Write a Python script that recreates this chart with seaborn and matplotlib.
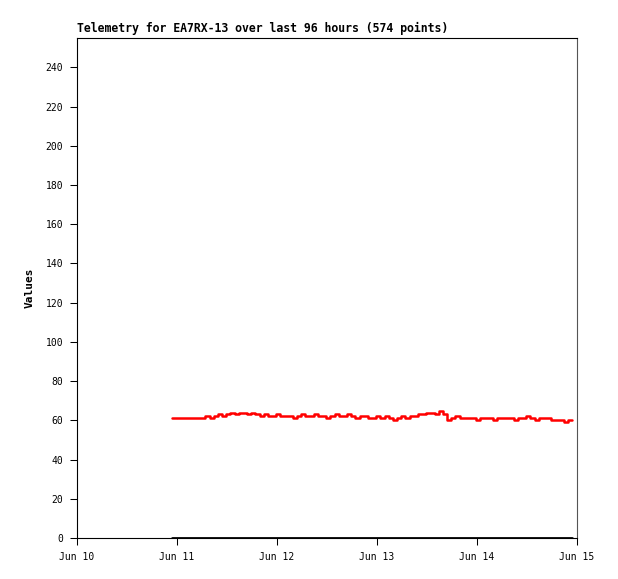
import pandas as pd
import numpy as np
import matplotlib
matplotlib.use("Agg")
import matplotlib.pyplot as plt
import matplotlib.dates as mdates
import seaborn as sns

# hourly telemetry readings, starting Jun 10 22:48
start_time = "2024-06-10 22:48"
channel_a = [61, 61, 61, 61, 61, 61, 61, 61,
             62, 61, 62, 63, 62, 63, 64, 63, 64, 64, 63, 64, 63, 62, 63, 62,
             62, 63, 62, 62, 62, 61, 62, 63, 62, 62, 63, 62, 62, 61, 62, 63,
             62, 62, 63, 62, 61, 62, 62, 61,
             61, 62, 61, 62, 61, 60, 61, 62, 61, 62, 62,
             63, 63, 64, 64, 63, 65, 63,
             60, 61, 62, 61, 61,
             61, 61, 60, 61, 61, 61, 60, 61, 61, 61, 61, 60, 61, 61, 62, 61,
             60, 61, 61, 61, 60, 60, 60, 59, 60, 60]
channel_b = [0] * len(channel_a)

times = pd.date_range(start_time, periods=len(channel_a), freq="h")
df = pd.DataFrame({"time": times, "a": channel_a, "b": channel_b})

sns.set_style("white")
plt.rcParams['font.family'] = ['DejaVu Sans Mono']
plt.rcParams['text.color'] = 'black'
plt.rcParams['axes.labelcolor'] = 'black'

fig = plt.figure(figsize=(6.18, 5.79), dpi=100)
ax = fig.add_axes([77 / 618, 41 / 579, 500 / 618, 500 / 579])

sns.lineplot(data=df, x="time", y="b", color="black", linewidth=2, ax=ax, drawstyle="steps-post")
sns.lineplot(data=df, x="time", y="a", color="red", linewidth=1.8, ax=ax, drawstyle="steps-post")

ax.set_xlim(pd.Timestamp("2024-06-10"), pd.Timestamp("2024-06-15"))
ax.set_ylim(0, 255)
ax.set_yticks(range(0, 241, 20))
ax.xaxis.set_major_locator(mdates.DayLocator())
ax.xaxis.set_major_formatter(mdates.DateFormatter("%b %d"))

ax.tick_params(axis="both", bottom=True, left=True, direction="out", length=5, width=0.75,
               labelsize=7, color="black", labelcolor="black", pad=5)
for side in ["left", "bottom", "top"]:
    ax.spines[side].set_color("black")
    ax.spines[side].set_linewidth(0.8)
ax.spines["right"].set_color("#555555")
ax.spines["right"].set_linewidth(0.8)

ax.set_xlabel("")
ax.set_ylabel("Values", fontsize=8, fontweight="bold", labelpad=8)
ax.set_title("Telemetry for EA7RX-13 over last 96 hours (574 points)",
             loc="left", fontsize=8.3, fontweight="bold", pad=4)

fig.savefig("out.png", dpi=100)
